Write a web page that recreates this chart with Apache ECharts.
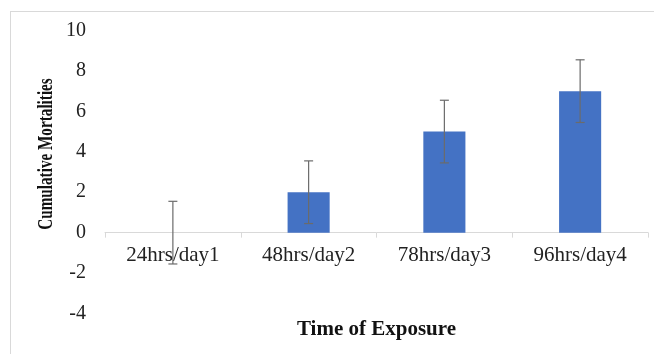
<!DOCTYPE html>
<html>
<head>
<meta charset="utf-8">
<script src="https://cdn.jsdelivr.net/npm/echarts@6/dist/echarts.min.js"></script>
<style>
  html, body { margin: 0; padding: 0; background: #fff; }
  #chart { width: 654px; height: 354px; }
</style>
</head>
<body>
<div id="chart"></div>
<script>
const categories = ['24hrs/day1', '48hrs/day2', '78hrs/day3', '96hrs/day4'];
const mortality = [0, 2, 5, 7];
const errorAmount = [1.55, 1.55, 1.55, 1.55];
const yMin = -4, yMax = 10, yStep = 2;

const serif = '"Liberation Serif", "Times New Roman", serif';
const chart = echarts.init(document.getElementById('chart'));

const gridTop = 30.5, gridBottom = 40.5, H = 354;
const plotH = H - gridTop - gridBottom;
const zeroOffset = plotH * (0 - yMin) / (yMax - yMin);

const errData = categories.map((c, i) => [i, mortality[i], errorAmount[i]]);

chart.setOption({
  animation: false,
  backgroundColor: '#fff',
  grid: { left: 105, right: 6, top: gridTop, bottom: gridBottom, containLabel: false, outerBoundsMode: 'none' },
  xAxis: {
    type: 'category',
    data: categories,
    offset: -zeroOffset,
    axisLine: { onZero: false, lineStyle: { color: '#d9d9d9', width: 1 } },
    axisTick: { show: true, alignWithLabel: false, length: 5, lineStyle: { color: '#d9d9d9' } },
    axisLabel: { color: '#222', fontFamily: serif, fontSize: 21, margin: 12 },
    name: 'Time of Exposure',
    nameLocation: 'middle',
    nameGap: 86,
    nameTextStyle: { color: '#111', fontFamily: serif, fontSize: 21, fontWeight: 'bold' }
  },
  yAxis: {
    type: 'value',
    min: yMin, max: yMax, interval: yStep,
    axisLine: { show: false },
    axisTick: { show: false },
    splitLine: { show: false },
    axisLabel: { color: '#222', fontFamily: serif, fontSize: 20, margin: 19 }
  },
  graphic: [
    { type: 'line', shape: { x1: 10, y1: 11.5, x2: 654, y2: 11.5 }, style: { stroke: '#d9d9d9', lineWidth: 1 } },
    { type: 'line', shape: { x1: 10.5, y1: 11, x2: 10.5, y2: 354 }, style: { stroke: '#d9d9d9', lineWidth: 1 } },
    {
      type: 'text', x: 47, y: 154, rotation: Math.PI / 2, scaleX: 0.76,
      style: {
        text: 'Cumulative Mortalities', fill: '#111',
        font: 'bold 20px ' + serif, textAlign: 'center', textVerticalAlign: 'middle'
      }
    }
  ],
  series: [
    {
      type: 'bar',
      data: mortality,
      barWidth: '31%',
      itemStyle: { color: '#4472C4' }
    },
    {
      type: 'custom',
      data: errData,
      encode: { x: 0, y: 1 },
      z: 10,
      renderItem: function (params, api) {
        const x = api.value(0), v = api.value(1), e = api.value(2);
        const hi = api.coord([x, v + e]);
        const lo = api.coord([x, v - e]);
        const cap = 4.5;
        const style = { stroke: '#6b6b6b', lineWidth: 1.2 };
        return {
          type: 'group',
          children: [
            { type: 'line', shape: { x1: hi[0], y1: hi[1], x2: lo[0], y2: lo[1] }, style: style },
            { type: 'line', shape: { x1: hi[0] - cap, y1: hi[1], x2: hi[0] + cap, y2: hi[1] }, style: style },
            { type: 'line', shape: { x1: lo[0] - cap, y1: lo[1], x2: lo[0] + cap, y2: lo[1] }, style: style }
          ]
        };
      }
    }
  ]
});
</script>
</body>
</html>
